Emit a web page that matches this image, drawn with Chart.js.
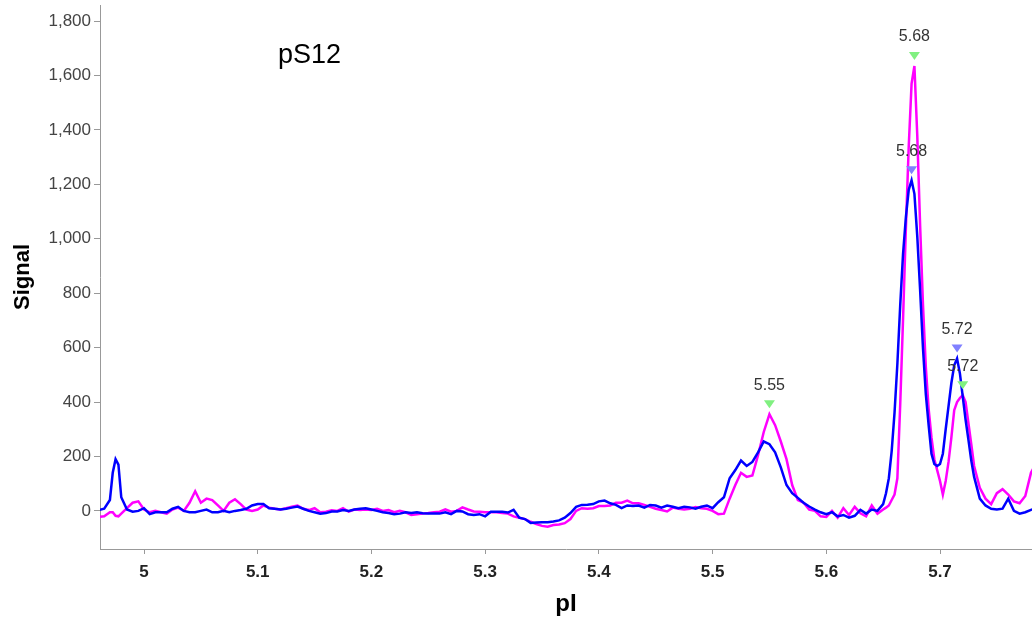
<!DOCTYPE html>
<html>
<head>
<meta charset="utf-8">
<script src="https://cdn.jsdelivr.net/npm/chart.js@4.4.1/dist/chart.umd.min.js"></script>
<style>
html, body { margin: 0; padding: 0; background: #fff; }
</style>
</head>
<body>
<canvas id="pIChart" width="1032" height="619"></canvas>
<script>
// pI grid (finer around the main peaks)
var pI = [
  4.96, 4.965, 4.97, 4.9725, 4.975, 4.9775, 4.98, 4.985, 4.99, 4.995,
  5, 5.005, 5.01, 5.015, 5.02, 5.025, 5.03, 5.035, 5.04, 5.045, 5.05, 5.055, 5.06, 5.065, 5.07, 5.075, 5.08, 5.085, 5.09, 5.095,
  5.1, 5.105, 5.11, 5.115, 5.12, 5.125, 5.13, 5.135, 5.14, 5.145, 5.15, 5.155, 5.16, 5.165, 5.17, 5.175, 5.18, 5.185, 5.19, 5.195,
  5.2, 5.205, 5.21, 5.215, 5.22, 5.225, 5.23, 5.235, 5.24,
  5.245, 5.25, 5.255, 5.26, 5.265, 5.27, 5.275, 5.28, 5.285, 5.29, 5.295, 5.3, 5.305, 5.31, 5.315, 5.32, 5.325, 5.33, 5.335, 5.34,
  5.345, 5.35, 5.355, 5.36, 5.365, 5.37, 5.375, 5.38, 5.385, 5.39, 5.395, 5.4, 5.405, 5.41, 5.415, 5.42, 5.425, 5.43, 5.435, 5.44,
  5.445, 5.45, 5.455, 5.46, 5.465, 5.47, 5.475, 5.48, 5.485, 5.49, 5.495, 5.5,
  5.505, 5.51, 5.515, 5.52, 5.525, 5.53, 5.535, 5.54, 5.545, 5.55, 5.555, 5.56, 5.565, 5.57, 5.575, 5.58, 5.585, 5.59, 5.595, 5.6,
  5.605, 5.61, 5.615, 5.62, 5.625, 5.63, 5.635, 5.64, 5.645,
  5.65, 5.6525, 5.655, 5.6575, 5.66, 5.6625, 5.665, 5.6675, 5.67, 5.6725, 5.675, 5.6775, 5.68, 5.6825, 5.685, 5.6875, 5.69, 5.6925,
  5.695, 5.6975, 5.7, 5.7025, 5.705, 5.7075, 5.71, 5.7125, 5.715, 5.7175, 5.72, 5.7225, 5.725, 5.7275, 5.73,
  5.735, 5.74, 5.745, 5.75, 5.755, 5.76, 5.765, 5.77, 5.775, 5.78, 5.785
];

var blueSignal = [
  3, 8, 40, 140, 190, 170, 50, 5, -3, 0,
  10, -12, -5, -5, -5, 8, 15, 0, -5, -5, 0, 5, -5, -5, 0, -5, 0, 3, 8, 20,
  25, 25, 10, 8, 5, 8, 12, 16, 8, 0, -5, -10, -8, -2, -2, 3, 0, 5, 8, 10,
  5, 0, -5, -8, -12, -10, -5, -8, -5,
  -9, -10, -10, -10, -5, -12, 0, -2, -12, -15, -12, -20, -3, -3, -3, -6, 4, -25, -30, -44,
  -43, -42, -42, -39, -35, -25, -8, 15, 22, 23, 25, 35, 38, 28, 22, 10, 20, 18, 20, 12,
  22, 20, 12, 20, 15, 10, 15, 13, 8, 15, 20, 10,
  32, 50, 120, 150, 185, 165, 180, 215, 255, 245, 215, 160, 95, 65, 48, 30, 16, 5, -5, -12,
  -5, -20, -15, -25, -18, 4, -10, 5, 0,
  25, 65, 120, 220, 360, 540, 755, 945, 1080, 1180, 1215, 1165, 1010, 812, 600, 430, 315, 210,
  172, 165, 172, 210, 300, 385, 470, 535, 560, 505, 420, 335, 261, 185, 125,
  45, 20, 8, 5, 8, 45, 0, -10, -5, 4, 10
];

var magentaSignal = [
  -22, -20, -5, -5, -18, -20, -10, 10, 30, 35,
  5, -5, 0, -5, -10, 5, 12, 0, 30, 72, 30, 45, 40, 20, 0, 30, 43, 25, 5, 0,
  5, 20, 12, 8, 5, 10, 15, 20, 8, 3, 10, -5, -3, 2, 0, 10, -3, 5, 3, 5,
  3, 8, 0, 3, -5, 0, -5, -15, -12,
  -10, -8, -5, -3, 6, -3, 0, 13, 5, -2, -3, -5, -5, -5, -8, -10, -20, -25, -30, -40,
  -48, -55, -58, -52, -50, -45, -30, 0, 10, 8, 10, 18, 18, 20, 30, 30, 38, 28, 28, 22,
  15, 8, 3, -2, 12, 8, 5, 8, 14, 10, 8, 0,
  -12, -10, 45, 95, 140, 125, 130, 205, 290, 355, 315, 255, 190, 95, 40, 30, 5, 0, -20, -22,
  0, -25, 10, -15, 15, -9, -20, 20, -10,
  5, 12, 20, 40, 60, 120, 390, 705, 1040, 1340, 1570, 1635, 1380, 1050, 760, 530, 375, 270,
  190, 150, 110, 60, 110, 180, 270, 370, 400, 415, 425, 400, 322, 245, 165,
  85, 45, 25, 65, 80, 60, 35, 28, 55, 140, 180
];

var xTicks = [5, 5.1, 5.2, 5.3, 5.4, 5.5, 5.6, 5.7];
var yTicks = [0, 200, 400, 600, 800, 1000, 1200, 1400, 1600, 1800];

// peak markers: pI of the apex, which trace, label text
var peakPI = [5.55, 5.6775, 5.675, 5.715, 5.72];
var peakTrace = ['magenta', 'magenta', 'blue', 'blue', 'magenta'];
var peakLabels = ['5.55', '5.68', '5.68', '5.72', '5.72'];

function toPoints(values) {
  return pI.map(function (x, i) { return { x: x, y: values[i] }; });
}

var peakMarkers = {
  id: 'peakMarkers',
  afterDatasetsDraw: function (chart) {
    var ctx = chart.ctx;
    var xs = chart.scales.x, ys = chart.scales.y;
    ctx.save();
    for (var i = 0; i < peakPI.length; i++) {
      var idx = pI.indexOf(peakPI[i]);
      var series = peakTrace[i] === 'blue' ? blueSignal : magentaSignal;
      var px = xs.getPixelForValue(peakPI[i]);
      var py = ys.getPixelForValue(series[idx]) - 10;
      ctx.fillStyle = peakTrace[i] === 'blue' ? '#8080ff' : '#80f080';
      ctx.beginPath();
      ctx.moveTo(px - 5.5, py - 4);
      ctx.lineTo(px + 5.5, py - 4);
      ctx.lineTo(px, py + 4);
      ctx.closePath();
      ctx.fill();
      ctx.fillStyle = '#333';
      ctx.font = '16px Arial, "Liberation Sans", sans-serif';
      ctx.textAlign = 'center';
      ctx.textBaseline = 'middle';
      ctx.fillText(peakLabels[i], px, py - 19);
    }
    // sample name
    ctx.fillStyle = '#000';
    ctx.font = '27px Arial, "Liberation Sans", sans-serif';
    ctx.textAlign = 'left';
    ctx.textBaseline = 'alphabetic';
    ctx.fillText('pS12', chart.chartArea.left + 178, 63);
    ctx.restore();
  }
};

var ctx = document.getElementById('pIChart').getContext('2d');
var pIChart = new Chart(ctx, {
  type: 'line',
  data: {
    datasets: [{
      label: 'blue',
      data: toPoints(blueSignal),
      borderColor: '#0000ff',
      borderWidth: 2.5,
      pointRadius: 0,
      tension: 0,
      order: 0
    }, {
      label: 'magenta',
      data: toPoints(magentaSignal),
      borderColor: '#ff00ff',
      borderWidth: 2.5,
      pointRadius: 0,
      tension: 0,
      order: 1
    }]
  },
  options: {
    responsive: false,
    animation: false,
    devicePixelRatio: 1,
    layout: { padding: { top: 5, right: 0, left: 0, bottom: 0 } },
    plugins: {
      legend: { display: false },
      tooltip: { enabled: false }
    },
    scales: {
      x: {
        type: 'linear',
        min: 4.9613,
        max: 5.7809,
        afterFit: function (scale) {
          scale.height = 70;
          scale.paddingLeft = 0;
          scale.paddingRight = 0;
        },
        afterBuildTicks: function (scale) {
          scale.ticks = xTicks.map(function (v) { return { value: v }; });
        },
        border: { color: '#999', width: 1 },
        grid: { drawOnChartArea: false, tickLength: 5, color: '#999' },
        ticks: {
          color: '#222',
          padding: 8,
          maxRotation: 0,
          autoSkip: false,
          font: { family: '"Liberation Sans Narrow", "Arial Narrow", Arial, sans-serif', size: 17, weight: 'bold' },
          callback: function (v) { return String(v); }
        },
        title: {
          display: true,
          text: 'pI',
          color: '#000',
          padding: { top: 2, bottom: 0 },
          font: { family: 'Arial, "Liberation Sans", sans-serif', size: 24, weight: 'bold' }
        }
      },
      y: {
        min: -140,
        max: 1859,
        afterFit: function (scale) {
          scale.width = 100;
          scale.paddingTop = 0;
          scale.paddingBottom = 0;
        },
        afterBuildTicks: function (scale) {
          scale.ticks = yTicks.map(function (v) { return { value: v }; });
        },
        border: { color: '#999', width: 1 },
        grid: { drawOnChartArea: false, tickLength: 6, color: '#999' },
        ticks: {
          color: '#444',
          padding: 3,
          font: { family: 'Arial, "Liberation Sans", sans-serif', size: 17 },
          callback: function (v) { return v.toLocaleString('en-US'); }
        },
        title: {
          display: true,
          text: 'Signal',
          color: '#000',
          padding: { top: 10, bottom: 0 },
          font: { family: 'Arial, "Liberation Sans", sans-serif', size: 22, weight: 'bold' }
        }
      }
    }
  },
  plugins: [peakMarkers]
});
</script>
</body>
</html>
